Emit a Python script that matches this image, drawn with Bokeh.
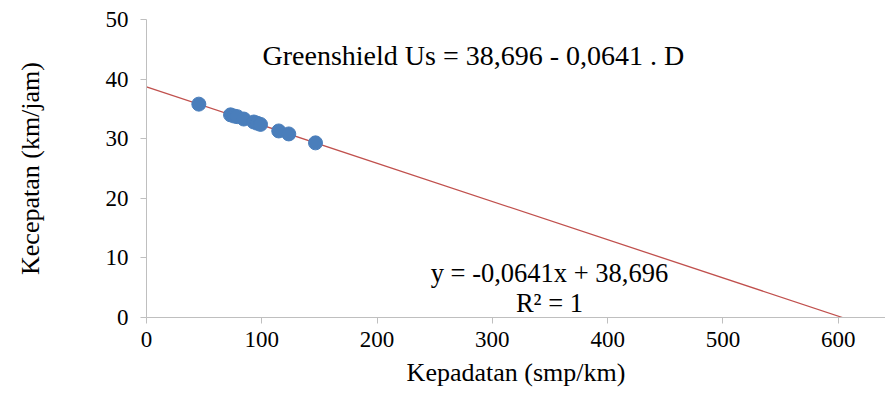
from bokeh.plotting import figure
from bokeh.models import Label, FixedTicker, Range1d
from bokeh.embed import file_html
from bokeh.resources import INLINE

# Data
kepadatan = [45.4, 72.9, 76.0, 78.7, 84.4, 93.1, 96.0, 98.9, 114.7, 123.4, 146.6]
kecepatan = [35.8, 34.0, 33.8, 33.7, 33.3, 32.8, 32.6, 32.4, 31.3, 30.8, 29.3]
trend_slope = -0.0641
trend_intercept = 38.696
x_ticks = [0, 100, 200, 300, 400, 500, 600]
y_ticks = [0, 10, 20, 30, 40, 50]

FONT = "Liberation Serif"

p = figure(width=885, height=399, output_backend="svg", toolbar_location=None,
           x_range=Range1d(0, 641), y_range=Range1d(0, 50),
           min_border_left=146, min_border_right=0, min_border_top=19, min_border_bottom=82)
p.outline_line_color = None
p.grid.visible = False
p.background_fill_color = "white"
p.border_fill_color = "white"

for ax in (p.xaxis[0], p.yaxis[0]):
    ax.axis_line_color = "#BFBFBF"
    ax.major_tick_line_color = "#BFBFBF"
    ax.minor_tick_line_color = None
    ax.major_tick_out = 6
    ax.major_tick_in = 0
    ax.major_label_text_font = FONT
    ax.major_label_text_font_size = "23px"
    ax.major_label_text_color = "black"
    ax.axis_label_text_font = FONT
    ax.axis_label_text_font_size = "26px"
    ax.axis_label_text_font_style = "normal"
    ax.axis_label_text_color = "black"

p.xaxis.ticker = FixedTicker(ticks=x_ticks)
p.yaxis.ticker = FixedTicker(ticks=y_ticks)
p.xaxis.axis_label = "Kepadatan (smp/km)"
p.yaxis.axis_label = "Kecepatan (km/jam)"
p.xaxis.major_label_standoff = 8
p.xaxis.axis_label_standoff = 8
p.yaxis.major_label_standoff = 12
p.yaxis.axis_label_standoff = 58

# Trendline from x=0 to where it meets y=0
x_end = -trend_intercept / trend_slope
p.line([0, x_end], [trend_intercept, trend_intercept + trend_slope * x_end],
       line_color="#C0504D", line_width=1.3)

p.scatter(kepadatan, kecepatan, size=14, fill_color="#4A7EBB", line_color="#4A7EBB")

p.add_layout(Label(x=100.6, y=44, text="Greenshield Us = 38,696 - 0,0641 . D",
                   text_font=FONT, text_font_size="28px", text_color="black",
                   text_align="left", text_baseline="alphabetic"))
p.add_layout(Label(x=349.5, y=7.55, text="y = -0,0641x + 38,696",
                   text_font=FONT, text_font_size="26.5px", text_color="black",
                   text_align="center", text_baseline="alphabetic"))
p.add_layout(Label(x=349.5, y=2.35, text="R² = 1",
                   text_font=FONT, text_font_size="26.5px", text_color="black",
                   text_align="center", text_baseline="alphabetic"))

open("out.html", "w").write(file_html(p, INLINE))
